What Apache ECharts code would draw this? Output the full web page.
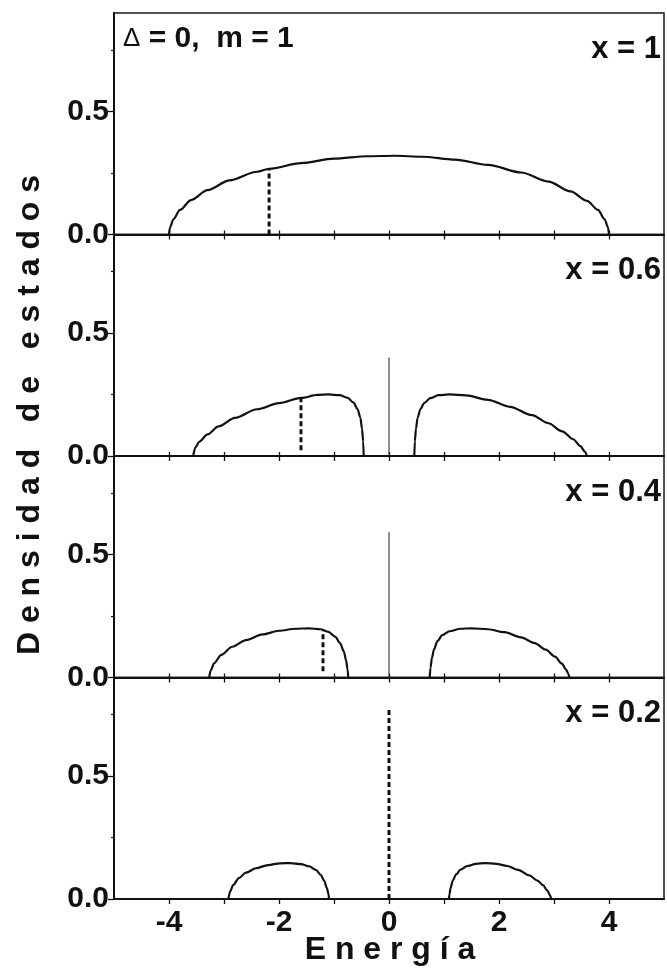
<!DOCTYPE html>
<html>
<head>
<meta charset="utf-8">
<script src="https://cdn.jsdelivr.net/npm/echarts@6/dist/echarts.min.js"></script>
<style>
  html, body { margin: 0; padding: 0; background: #fff; }
  #chart { width: 667px; height: 974px; }
</style>
</head>
<body>
<div id="chart"></div>
<script>
// Panel captions (concentration x), top to bottom
const panelLabels = ['x = 1', 'x = 0.6', 'x = 0.4', 'x = 0.2'];

// Axis ticks
const energyLabelValues = [-4, -2, 0, 2, 4];
const energyTickValues = [-4, -3, -2, -1, 0, 1, 2, 3, 4];
const dosLabelValues = [0, 0.5];
const dosMinorValues = [0.25, 0.75];

// Density of states, [energy, density]
const dosX10 = [[-4, 0], [-3.98, 0.03], [-3.92, 0.062], [-3.8, 0.1], [-3.6, 0.14], [-3.3, 0.18],
  [-2.9, 0.22], [-2.4, 0.255], [-2.18, 0.267], [-1.6, 0.29], [-1, 0.308], [-0.4, 0.318],
  [0.1, 0.32], [0.6, 0.316], [1.2, 0.304], [1.8, 0.283], [2.4, 0.252], [2.9, 0.215],
  [3.3, 0.175], [3.6, 0.137], [3.8, 0.1], [3.92, 0.062], [3.98, 0.03], [4, 0]];

const dosX06Lower = [[-3.56, 0], [-3.52, 0.035], [-3.45, 0.058], [-3.3, 0.088], [-3.1, 0.12],
  [-2.8, 0.155], [-2.4, 0.19], [-2.0, 0.215], [-1.6, 0.236], [-1.3, 0.248], [-1.1, 0.25],
  [-0.9, 0.247], [-0.75, 0.236], [-0.65, 0.218], [-0.57, 0.19], [-0.52, 0.155],
  [-0.49, 0.11], [-0.47, 0.06], [-0.46, 0]];
const dosX06Upper = [[0.46, 0], [0.47, 0.06], [0.49, 0.11], [0.52, 0.155], [0.57, 0.19],
  [0.64, 0.215], [0.75, 0.235], [0.9, 0.247], [1.1, 0.25], [1.4, 0.246], [1.8, 0.228],
  [2.2, 0.2], [2.6, 0.166], [2.9, 0.133], [3.15, 0.1], [3.35, 0.068], [3.48, 0.04],
  [3.56, 0.018], [3.6, 0]];

const dosX04Lower = [[-3.27, 0], [-3.24, 0.03], [-3.18, 0.058], [-3.05, 0.092], [-2.85, 0.125],
  [-2.6, 0.152], [-2.3, 0.175], [-2.0, 0.19], [-1.7, 0.198], [-1.45, 0.2], [-1.25, 0.196],
  [-1.1, 0.185], [-0.98, 0.166], [-0.89, 0.14], [-0.82, 0.105], [-0.78, 0.07],
  [-0.755, 0.035], [-0.74, 0]];
const dosX04Upper = [[0.74, 0], [0.755, 0.04], [0.78, 0.08], [0.82, 0.115], [0.88, 0.148],
  [0.97, 0.172], [1.1, 0.188], [1.3, 0.198], [1.5, 0.2], [1.8, 0.196], [2.1, 0.184],
  [2.4, 0.163], [2.65, 0.14], [2.85, 0.113], [3.02, 0.085], [3.14, 0.057], [3.22, 0.032],
  [3.26, 0.015], [3.28, 0]];

const dosX02Lower = [[-2.92, 0], [-2.89, 0.03], [-2.83, 0.058], [-2.73, 0.085], [-2.6, 0.107],
  [-2.42, 0.125], [-2.2, 0.138], [-1.98, 0.145], [-1.8, 0.146], [-1.6, 0.142],
  [-1.45, 0.133], [-1.33, 0.118], [-1.24, 0.098], [-1.18, 0.075], [-1.13, 0.045],
  [-1.1, 0.02], [-1.09, 0]];
const dosX02Upper = [[1.09, 0], [1.1, 0.02], [1.12, 0.045], [1.16, 0.075], [1.22, 0.1],
  [1.3, 0.119], [1.42, 0.134], [1.58, 0.143], [1.75, 0.146], [1.95, 0.143], [2.15, 0.134],
  [2.35, 0.118], [2.55, 0.096], [2.7, 0.075], [2.8, 0.056], [2.88, 0.034], [2.93, 0.014],
  [2.95, 0]];

const bandsByPanel = [[dosX10], [dosX06Lower, dosX06Upper], [dosX04Lower, dosX04Upper], [dosX02Lower, dosX02Upper]];

// Fermi level (dashed): energy, bottom and top of the marker
const fermiEnergy = [-2.18, -1.6, -1.2, 0];
const fermiBottom = [0, 0.023, 0.025, 0];
const fermiTop = [0.267, 0.238, 0.19, 0.78];

// Localized level at E = 0 (thin line), height per panel
const impurityPeak = [null, 0.40, 0.59, null];

// Layout
const LEFT = 114, RIGHT = 3, TOP = 13, PANEL_H = 221.5;
const FONT = '"Liberation Sans", Arial, sans-serif';
const INK = '#111';

const grids = [], xAxes = [], yAxes = [], series = [];

for (let i = 0; i < 4; i++) {
  grids.push({
    left: LEFT, right: RIGHT, top: TOP + i * PANEL_H, height: PANEL_H,
    show: true, borderColor: '#1a1a1a', borderWidth: 1.5, backgroundColor: 'transparent'
  });
  const last = i === 3;
  // main x axis
  xAxes.push({
    gridIndex: i, type: 'value', min: -5, max: 5, position: 'bottom',
    axisLine: { show: true, onZero: false, lineStyle: { color: INK, width: 2 } },
    axisTick: { show: true, customValues: energyTickValues, length: 5, inside: false, lineStyle: { color: INK, width: 1.3 } },
    axisLabel: { show: last, customValues: energyLabelValues, fontSize: 30, fontWeight: 'bold', fontFamily: FONT, color: INK, margin: 9 },
    splitLine: { show: false }
  });
  // inward half of the crossing ticks
  xAxes.push({
    gridIndex: i, type: 'value', min: -5, max: 5, position: 'bottom',
    axisLine: { show: false, onZero: false },
    axisTick: { show: !last, customValues: energyTickValues, length: 4, inside: true, lineStyle: { color: INK, width: 1.3 } },
    axisLabel: { show: false },
    splitLine: { show: false }
  });
  yAxes.push({
    gridIndex: i, type: 'value', min: 0, max: 0.9, position: 'left',
    axisLine: { show: true, onZero: false, lineStyle: { color: INK, width: 2 } },
    axisTick: { show: true, customValues: dosLabelValues, length: 6, lineStyle: { color: INK, width: 1.3 } },
    axisLabel: { show: true, customValues: dosLabelValues, formatter: v => v.toFixed(1), fontSize: 30, fontWeight: 'bold', fontFamily: FONT, color: INK, margin: 5 },
    splitLine: { show: false }
  });
  yAxes.push({
    gridIndex: i, type: 'value', min: 0, max: 0.9, position: 'left',
    axisLine: { show: false, onZero: false },
    axisTick: { show: true, customValues: dosMinorValues, length: 3, lineStyle: { color: INK, width: 1.2 } },
    axisLabel: { show: false },
    splitLine: { show: false }
  });

  const xi = i * 2, yi = i * 2;
  bandsByPanel[i].forEach(band => {
    series.push({
      type: 'line', xAxisIndex: xi, yAxisIndex: yi, data: band,
      showSymbol: false, symbol: 'none', smooth: 0.3, smoothMonotone: 'x',
      lineStyle: { color: INK, width: 2.2 }, silent: true, z: 3
    });
  });
  if (impurityPeak[i] !== null) {
    series.push({
      type: 'line', xAxisIndex: xi, yAxisIndex: yi,
      data: [[0, 0], [0, impurityPeak[i]]],
      symbol: 'none', lineStyle: { color: '#333', width: 1.1 }, silent: true, z: 2
    });
  }
  series.push({
    type: 'line', xAxisIndex: xi, yAxisIndex: yi,
    data: [[fermiEnergy[i], fermiBottom[i]], [fermiEnergy[i], fermiTop[i]]],
    symbol: 'none', lineStyle: { color: INK, width: 3, type: [5, 3] }, silent: true, z: 4
  });
}

const graphics = [
  {
    type: 'text', x: 30, y: 415, rotation: Math.PI / 2,
    style: {
      text: 'D e n s i d a d   d e   e s t a d o s',
      font: 'bold 32px ' + FONT, fill: INK, align: 'center', verticalAlign: 'middle'
    }
  },
  {
    type: 'text', x: 390, y: 950,
    style: {
      text: 'E n e r g í a',
      font: 'bold 32px ' + FONT, fill: INK, align: 'center', verticalAlign: 'middle'
    }
  },
  {
    type: 'text', x: 123, y: 39,
    style: {
      text: '{d|Δ}{t| = 0,  m = 1}',
      rich: {
        d: { fontSize: 26, fontWeight: 'normal', fontFamily: FONT, fill: INK },
        t: { fontSize: 30, fontWeight: 'bold', fontFamily: FONT, fill: INK }
      },
      align: 'left', verticalAlign: 'middle'
    }
  }
];
panelLabels.forEach((txt, i) => {
  graphics.push({
    type: 'text', x: 661, y: TOP + i * PANEL_H + 36,
    style: { text: txt, font: 'bold 31px ' + FONT, fill: INK, align: 'right', verticalAlign: 'middle' }
  });
});

const chart = echarts.init(document.getElementById('chart'), null, { renderer: 'canvas' });
chart.setOption({
  animation: false,
  backgroundColor: '#fff',
  grid: grids,
  xAxis: xAxes,
  yAxis: yAxes,
  series: series,
  graphic: graphics
});
</script>
</body>
</html>
